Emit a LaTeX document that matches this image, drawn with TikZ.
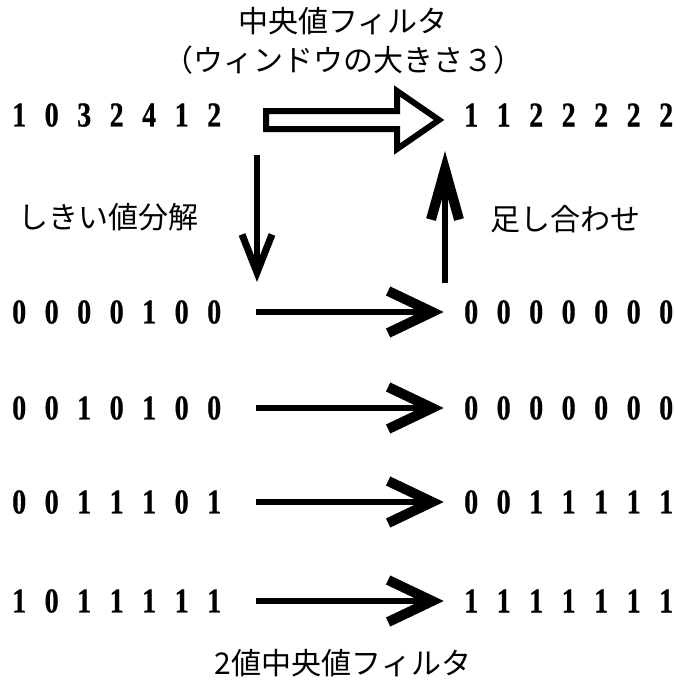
\documentclass[tikz,border=0pt]{standalone}
\usepackage{fontspec}
\usetikzlibrary{arrows.meta}
\newfontfamily\jpfont{Noto Sans CJK JP}
\newfontfamily\digfont[FakeStretch=0.8,FakeBold=0.6]{Liberation Serif}
\newcommand\dg[1]{\makebox[32.5pt]{#1}}
\tikzset{
  jp/.style={inner sep=0pt, font=\jpfont\fontsize{30}{36}\selectfont},
  dig/.style={inner sep=0pt, anchor=west, font=\digfont\bfseries\fontsize{35}{40}\selectfont},
  harrow/.style={line width=6pt, shorten <=25pt, shorten >=11pt,
    -{Straight Barb[length=44pt, width=42pt, line width=10pt]}},
  darrow/.style={line width=6pt, -{Straight Barb[length=38pt, width=30pt, line width=7pt]}},
  uarrow/.style={line width=6pt, -{Straight Barb[length=50pt, width=28pt, line width=10pt]}},
  hollow/.style={line width=6pt, miter limit=20}
}
\begin{document}
\begin{tikzpicture}[x=1pt, y=-1pt]
\useasboundingbox (0,0) rectangle (675,680);
\node[jp] (t1) at (343,21) {中央値フィルタ};
\node[jp] (t2) at (343,60) {（ウィンドウの大きさ３）};
\node[dig] (l0) at (2.75,115) {\dg1\dg0\dg3\dg2\dg4\dg1\dg2};
\node[dig] (r0) at (454.75,115) {\dg1\dg1\dg2\dg2\dg2\dg2\dg2};
\node[dig] (l1) at (2.75,312) {\dg0\dg0\dg0\dg0\dg1\dg0\dg0};
\node[dig] (r1) at (454.75,312) {\dg0\dg0\dg0\dg0\dg0\dg0\dg0};
\node[dig] (l2) at (2.75,408) {\dg0\dg0\dg1\dg0\dg1\dg0\dg0};
\node[dig] (r2) at (454.75,408) {\dg0\dg0\dg0\dg0\dg0\dg0\dg0};
\node[dig] (l3) at (2.75,502) {\dg0\dg0\dg1\dg1\dg1\dg0\dg1};
\node[dig] (r3) at (454.75,502) {\dg0\dg0\dg1\dg1\dg1\dg1\dg1};
\node[dig] (l4) at (2.75,601) {\dg1\dg0\dg1\dg1\dg1\dg1\dg1};
\node[dig] (r4) at (454.75,601) {\dg1\dg1\dg1\dg1\dg1\dg1\dg1};
\node[jp] (dec) at (108,217) {しきい値分解};
\node[jp] (sum) at (565,219) {足し合わせ};
\node[jp] (bot) at (343,663) {2値中央値フィルタ};
% hollow block arrow
\draw[hollow] (266,111) -- (397,111) -- (397,91) -- (439,120) -- (397,149) -- (397,129) -- (266,129) -- cycle;
% vertical arrows
\coordinate (dA) at (257,155);
\coordinate (dB) at (257,282);
\coordinate (uA) at (445,283);
\coordinate (uB) at (445,151);
\draw[darrow] (dA) -- (dB);
\draw[uarrow] (uA) -- (uB);
% horizontal arrows
\draw[harrow] (l1) -- (r1);
\draw[harrow] (l2) -- (r2);
\draw[harrow] (l3) -- (r3);
\draw[harrow] (l4) -- (r4);
\end{tikzpicture}
\end{document}
